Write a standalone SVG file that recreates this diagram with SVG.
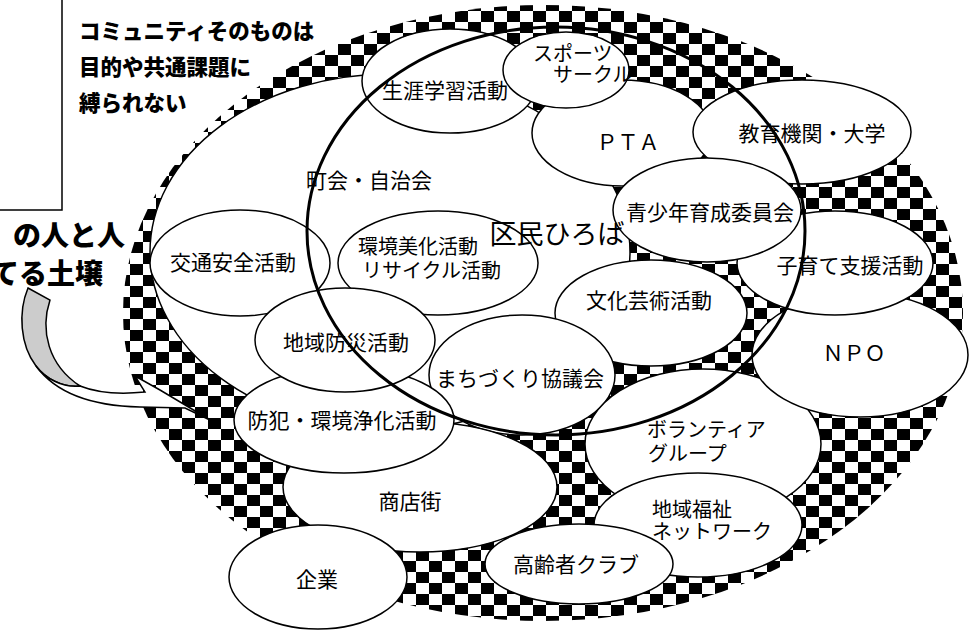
<svg xmlns="http://www.w3.org/2000/svg" width="976" height="630" viewBox="0 0 976 630">
<defs>
<pattern id="chk" width="26" height="22" patternUnits="userSpaceOnUse">
<rect width="26" height="22" fill="#fff"/>
<rect width="13" height="11" fill="#000"/>
<rect x="13" y="11" width="13" height="11" fill="#000"/>
</pattern>
<style>
.n ellipse{fill:#fff;stroke:#000;stroke-width:1.5}
text{font-family:"Noto Sans CJK JP","Noto Sans CJK SC",sans-serif;fill:#000;dominant-baseline:central}
.t{font-size:21px;text-anchor:middle}
.s{font-size:20px;text-anchor:start}
.b{font-size:21.5px;font-weight:900;text-anchor:start}
.big{font-size:28px;font-weight:900;text-anchor:start}
</style>
</defs>
<rect width="976" height="630" fill="#fff"/>
<g id="box"><path d="M62,0 V210 H0" fill="none" stroke="#000" stroke-width="1.5"/></g>
<g id="caption">
<text class="b" x="79" y="29">コミュニティそのものは</text>
<text class="b" x="79" y="65">目的や共通課題に</text>
<text class="b" x="79" y="101">縛られない</text>
</g>
<g id="community"><ellipse cx="543" cy="313" rx="420" ry="308" fill="url(#chk)"/></g>
<g class="n">
<g id="chokai"><ellipse cx="390" cy="252" rx="240" ry="178"/></g>
<g id="kotsu"><ellipse cx="240" cy="263" rx="90" ry="53"/></g>
<g id="shogai"><ellipse cx="450" cy="81" rx="88" ry="52"/></g>
<g id="pta"><ellipse cx="622" cy="133" rx="90" ry="53"/></g>
<g id="sports"><ellipse cx="566" cy="70" rx="63" ry="38"/></g>
<g id="kyoiku"><ellipse cx="802" cy="132" rx="109" ry="52"/></g>
<g id="kankyo"><ellipse cx="438" cy="263" rx="100" ry="52"/></g>
<g id="bunka"><ellipse cx="651" cy="313" rx="96" ry="53"/></g>
<g id="machi"><ellipse cx="522" cy="375" rx="93" ry="60"/></g>
<g id="volunteer"><ellipse cx="703" cy="444" rx="118" ry="75"/></g>
<g id="npo"><ellipse cx="860" cy="355" rx="108" ry="62"/></g>
<g id="kosodate"><ellipse cx="835" cy="263" rx="98" ry="52"/></g>
<g id="seishonen"><ellipse cx="707" cy="210" rx="94" ry="52"/></g>
<g id="shotengai"><ellipse cx="420" cy="487" rx="137" ry="65"/></g>
<g id="bohan"><ellipse cx="344" cy="420" rx="110" ry="53"/></g>
<g id="bosai"><ellipse cx="345" cy="340" rx="90" ry="52"/></g>
<g id="kigyo"><ellipse cx="318" cy="577" rx="89" ry="52"/></g>
<g id="fukushi"><ellipse cx="698" cy="525" rx="104" ry="52"/></g>
<g id="koreisha"><ellipse cx="579" cy="564" rx="94" ry="40"/></g>
</g>
<g id="hiroba"><ellipse cx="556" cy="231" rx="249" ry="204" fill="none" stroke="#000" stroke-width="3"/>
<text x="557" y="232" style="font-size:27px;text-anchor:middle">区民ひろば</text></g>
<g id="connectors">
<path d="M28,288 L50,300 C40,330 48,365 80,386 C62,388 45,378 36,366 C20,345 18,312 28,288 Z" fill="#ccc" stroke="#000" stroke-width="1.5"/>
<path d="M36,366 C55,392 90,406 140,407 L185,408 L212,421 L160,390 L135,376 L145,392 C115,395 95,392 80,386 C62,388 45,378 36,366 Z" fill="#fff" stroke="#000" stroke-width="1.5"/>
</g>
<g id="soil">
<text class="big" x="13" y="234">の人と人</text>
<text class="big" x="-9" y="272">てる土壌</text>
</g>
<g id="labels">
<text class="t" x="369" y="179">町会・自治会</text>
<text class="t" x="233" y="261">交通安全活動</text>
<text class="t" x="445" y="89">生涯学習活動</text>
<text class="s" x="533" y="52">スポーツ</text>
<text class="s" x="553" y="73">サークル</text>
<text class="t" x="628" y="141">ＰＴＡ</text>
<text class="t" x="812" y="132">教育機関・大学</text>
<text class="t" x="710" y="211">青少年育成委員会</text>
<text class="t" x="850" y="264">子育て支援活動</text>
<text class="t" x="854" y="352">ＮＰＯ</text>
<text class="s" x="358" y="245">環境美化活動</text>
<text class="s" x="362" y="269">リサイクル活動</text>
<text class="t" x="649" y="299">文化芸術活動</text>
<text class="t" x="346" y="341">地域防災活動</text>
<text class="t" x="520" y="377">まちづくり協議会</text>
<text class="t" x="342" y="419">防犯・環境浄化活動</text>
<text class="s" x="647" y="428">ボランティア</text>
<text class="s" x="648" y="452">グループ</text>
<text class="t" x="410" y="500">商店街</text>
<text class="s" x="652" y="508">地域福祉</text>
<text class="s" x="652" y="530">ネットワーク</text>
<text class="t" x="576" y="563">高齢者クラブ</text>
<text class="t" x="317" y="578">企業</text>
</g>
</svg>
